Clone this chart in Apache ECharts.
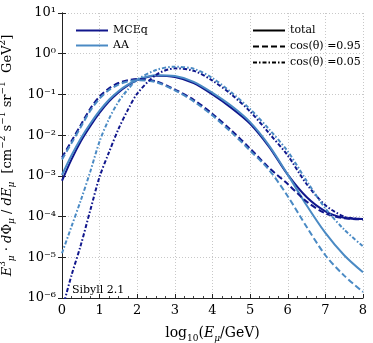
<!DOCTYPE html>
<html style="height: 100%">
   <head>
       <meta charset="utf-8">
   </head>
   <body style="height: 100%; margin: 0; background: #fff">
       <div id="container" style="height: 343px; width: 373px;"></div>
       <script type="text/javascript" src="https://cdn.jsdelivr.net/npm/echarts@6/dist/echarts.min.js"></script>
       <script type="text/javascript">
        // log10(E_mu / GeV)
        var logE = [0, 0.25, 0.5, 0.75, 1, 1.25, 1.5, 1.75, 2, 2.5, 3, 3.5, 4, 4.5, 5, 5.5, 6, 6.5, 7, 7.5, 8];

        // exponents (log10 of flux)
        var mceqTotal = [-3.12, -2.6, -2.15, -1.78, -1.45, -1.17, -0.95, -0.78, -0.65, -0.54, -0.57, -0.72, -1.0, -1.33, -1.72, -2.28, -2.97, -3.52, -3.87, -4.03, -4.06];
        var aaTotal = [-2.98, -2.5, -2.08, -1.72, -1.4, -1.13, -0.92, -0.76, -0.64, -0.53, -0.55, -0.69, -0.96, -1.28, -1.68, -2.25, -2.97, -3.72, -4.4, -4.95, -5.37];
        var mceqVert = [-2.55, -2.15, -1.75, -1.35, -1.05, -0.85, -0.72, -0.65, -0.62, -0.68, -0.88, -1.13, -1.48, -1.88, -2.33, -2.8, -3.2, -3.63, -3.92, -4.04, -4.07];
        var aaVert = [-2.6, -2.2, -1.8, -1.4, -1.1, -0.89, -0.76, -0.68, -0.65, -0.7, -0.9, -1.17, -1.52, -1.93, -2.38, -2.85, -3.5, -4.25, -4.95, -5.45, -5.85];
        var mceqHoriz = [-6.3, -5.45, -4.7, -3.85, -3.02, -2.42, -1.85, -1.38, -0.98, -0.52, -0.36, -0.42, -0.66, -1.0, -1.42, -1.95, -2.5, -3.2, -3.72, -4.0, -4.06];
        var aaHoriz = [-4.9, -4.25, -3.6, -2.9, -2.15, -1.6, -1.18, -0.88, -0.64, -0.4, -0.32, -0.37, -0.6, -0.95, -1.36, -1.85, -2.4, -3.12, -3.8, -4.32, -4.73];

        var xTicks = [0, 1, 2, 3, 4, 5, 6, 7, 8];
        var yExps = [-6, -5, -4, -3, -2, -1, 0, 1];

        var darkBlue = '#10168c';
        var lightBlue = '#4a8ac4';
        var serif = 'DejaVu Serif';
        var supMap = {'-': '\u207b', '0': '\u2070', '1': '\u00b9', '2': '\u00b2', '3': '\u00b3',
                      '4': '\u2074', '5': '\u2075', '6': '\u2076', '7': '\u2077', '8': '\u2078', '9': '\u2079'};

        function pairs(exps) {
            return logE.map(function (x, i) { return [x, Math.pow(10, exps[i])]; });
        }
        function curve(name, color, exps, type) {
            return {
                name: name,
                type: 'line',
                data: pairs(exps),
                smooth: 0.3,
                symbol: 'none',
                clip: true,
                lineStyle: {color: color, width: 2, type: type},
                itemStyle: {color: color},
                z: 3
            };
        }
        function styleKey(name, type) {
            return {
                name: name, type: 'line', data: [], symbol: 'none',
                lineStyle: {color: '#000', width: 2, type: type},
                itemStyle: {color: '#000'}
            };
        }

        var dashed = [6, 3];
        var dashDot = [4, 2, 1.5, 2];

        var dom = document.getElementById("container");
        var myChart = echarts.init(dom);
        var option = {
            backgroundColor: '#fff',
            animation: false,
            textStyle: {fontFamily: serif},
            grid: {left: 62, right: 10, top: 13, bottom: 45, outerBoundsMode: 'none', containLabel: false},
            title: {
                text: 'Sibyll 2.1',
                left: 67, top: 280,
                textStyle: {fontFamily: serif, fontSize: 11, fontWeight: 'normal', color: '#000'}
            },
            legend: [{
                data: ['MCEq', 'AA'],
                orient: 'vertical',
                left: 70, top: 20,
                itemWidth: 32, itemHeight: 12, itemGap: 4,
                itemStyle: {opacity: 0},
                textStyle: {fontFamily: serif, fontSize: 11, color: '#000'}
            }, {
                data: ['total', 'cos(\u03b8) =0.95', 'cos(\u03b8) =0.05'],
                orient: 'vertical',
                left: 247, top: 20,
                itemWidth: 32, itemHeight: 12, itemGap: 5,
                itemStyle: {opacity: 0},
                textStyle: {fontFamily: serif, fontSize: 11, color: '#000'}
            }],
            xAxis: {
                type: 'value',
                min: 0, max: 8, interval: 1,
                name: 'log{s|10}({i|E}{m|\u03bc}/GeV)',
                nameLocation: 'middle',
                nameGap: 26,
                nameTextStyle: {
                    fontFamily: serif, fontSize: 14, color: '#000',
                    rich: {
                        s: {fontFamily: serif, fontSize: 9, verticalAlign: 'bottom', lineHeight: 19},
                        i: {fontFamily: serif, fontSize: 14, fontStyle: 'italic'},
                        m: {fontFamily: serif, fontSize: 9, fontStyle: 'italic', verticalAlign: 'bottom', lineHeight: 19}
                    }
                },
                axisLine: {show: true, onZero: false, lineStyle: {color: '#222', width: 1}},
                axisTick: {show: true, inside: true, length: 4, lineStyle: {color: '#222'}},
                minorTick: {show: true, splitNumber: 4, length: 2, lineStyle: {color: '#444'}},
                axisLabel: {
                    fontFamily: serif, fontSize: 13, color: '#000', margin: 6,
                    formatter: function (v) { return xTicks.indexOf(v) >= 0 ? String(v) : ''; }
                },
                splitLine: {show: true, lineStyle: {color: '#c8c8c8', type: [1, 2], width: 1}}
            },
            yAxis: [{
                type: 'log',
                logBase: 10,
                min: 1e-6, max: 10,
                name: '{i|E}{p|3}{m|\u03bc} \u00b7 {i|d}\u03a6{m|\u03bc} / {i|dE}{m|\u03bc}  [cm{p|\u22122} s{p|\u22121} sr{p|\u22121}  GeV{p|2}]',
                nameLocation: 'middle',
                nameGap: 33,
                nameRotate: 90,
                nameTextStyle: {
                    fontFamily: serif, fontSize: 13, color: '#000',
                    rich: {
                        i: {fontFamily: serif, fontSize: 13, fontStyle: 'italic'},
                        p: {fontFamily: serif, fontSize: 9, verticalAlign: 'top', lineHeight: 18},
                        m: {fontFamily: serif, fontSize: 9, fontStyle: 'italic', verticalAlign: 'bottom', lineHeight: 18}
                    }
                },
                axisLine: {show: true, onZero: false, lineStyle: {color: '#222', width: 1}},
                axisTick: {show: true, inside: true, length: 4, lineStyle: {color: '#222'}},
                axisLabel: {
                    fontFamily: serif, fontSize: 13, color: '#000', margin: 6,
                    formatter: function (v) {
                        var e = Math.round(Math.log10(v));
                        if (yExps.indexOf(e) < 0) return '';
                        return '10' + String(e).split('').map(function (c) { return supMap[c]; }).join('');
                    }
                },
                splitLine: {show: true, lineStyle: {color: '#c8c8c8', type: [1, 2], width: 1}}
            }, {
                type: 'log',
                logBase: 10,
                min: 1e-6, max: 10,
                position: 'right',
                axisLine: {show: true, lineStyle: {color: '#222', width: 1}},
                axisTick: {show: true, inside: true, length: 4, lineStyle: {color: '#222'}},
                axisLabel: {show: false},
                splitLine: {show: false}
            }],
            series: [
                curve('MCEq', darkBlue, mceqTotal, 'solid'),
                curve('AA', lightBlue, aaTotal, 'solid'),
                curve('MCEq', darkBlue, mceqVert, dashed),
                curve('AA', lightBlue, aaVert, dashed),
                curve('MCEq', darkBlue, mceqHoriz, dashDot),
                curve('AA', lightBlue, aaHoriz, dashDot),
                styleKey('total', 'solid'),
                styleKey('cos(\u03b8) =0.95', dashed),
                styleKey('cos(\u03b8) =0.05', dashDot)
            ]
        };

        myChart.setOption(option, true);
       </script>
   </body>
</html>
